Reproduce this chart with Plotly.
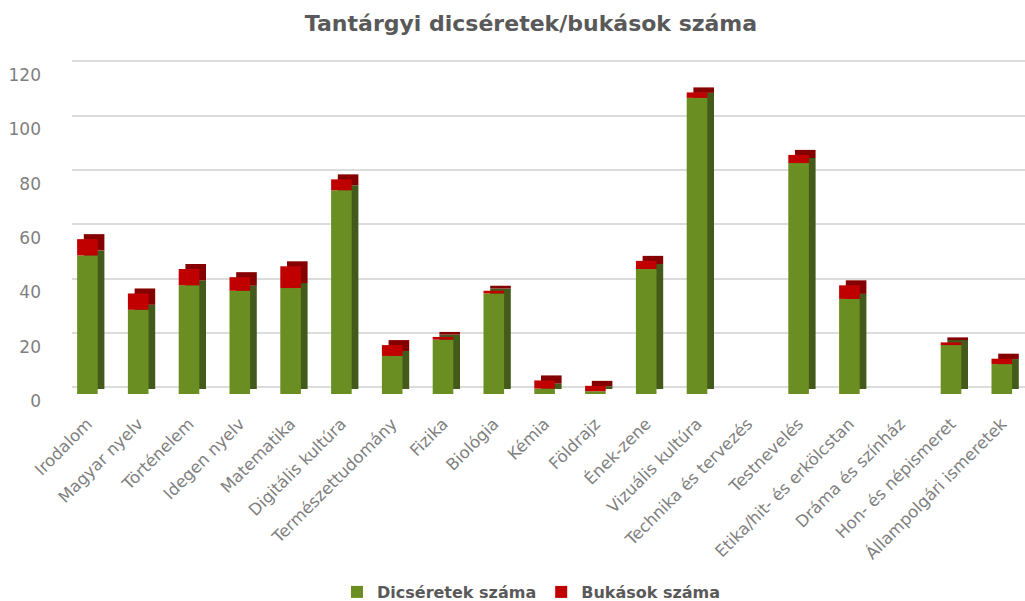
import plotly.graph_objects as go

categories = ["Irodalom", "Magyar nyelv", "Történelem", "Idegen nyelv", "Matematika",
              "Digitális kultúra", "Természettudomány", "Fizika", "Biológia", "Kémia",
              "Földrajz", "Ének-zene", "Vizuális kultúra", "Technika és tervezés",
              "Testnevelés", "Etika/hit- és erkölcstan", "Dráma és színház",
              "Hon- és népismeret", "Állampolgári ismeretek"]
dicseretek = [51, 31, 40, 38, 39, 75, 14, 20, 37, 2, 1, 46, 109, 0, 85, 35, 0, 18, 11]
bukasok = [6, 6, 6, 5, 8, 4, 4, 1, 1, 3, 2, 3, 2, 0, 3, 5, 0, 1, 2]
y_ticks = [0, 20, 40, 60, 80, 100, 120]

# layout geometry (pixels)
W, H = 1025, 601
L, R, T, B = 62, 0, 50, 191
ptop, pbot = T, H - B
pxu = 2.717          # pixels per unit
zero_bar, zero_lab, zero_grid = 394, 401, 387.3

def rng(zero):
    return [(zero - pbot) / pxu, (zero - ptop) / pxu]

cat_w = 50.8
bar_w = 20.6 / cat_w
dx = 6.7 / cat_w
dy = 5.0 / pxu

GREEN, GREEN_D = "#6B8E23", "#435A1A"
RED, RED_D = "#C00000", "#850000"
GREY = "#7F7F7F"
DARK = "#595959"
FONT = "DejaVu Sans"

totals_base = [g + dy for g in dicseretek]

fig = go.Figure()
# carrier for the back-wall grid subplot
fig.add_trace(go.Scatter(x=[0.5], y=[0], mode="markers", marker_opacity=0,
                         showlegend=False, hoverinfo="skip", xaxis="x", yaxis="y"))
# side/top shading (behind)
fig.add_trace(go.Bar(x=categories, y=dicseretek, base=[dy] * len(categories),
                     width=bar_w, offset=-bar_w / 2 + dx, marker_color=GREEN_D,
                     marker_line_width=0, showlegend=False, hoverinfo="skip",
                     xaxis="x2", yaxis="y2"))
fig.add_trace(go.Bar(x=categories, y=bukasok, base=totals_base,
                     width=bar_w, offset=-bar_w / 2 + dx, marker_color=RED_D,
                     marker_line_width=0, showlegend=False, hoverinfo="skip",
                     xaxis="x2", yaxis="y2"))
# front faces
fig.add_trace(go.Bar(x=categories, y=dicseretek, base=[0] * len(categories),
                     width=bar_w, offset=-bar_w / 2, marker_color=GREEN,
                     marker_line_width=0, name="Dicséretek száma",
                     xaxis="x2", yaxis="y2"))
fig.add_trace(go.Bar(x=categories, y=bukasok, base=dicseretek,
                     width=bar_w, offset=-bar_w / 2, marker_color=RED,
                     marker_line_width=0, name="Bukások száma",
                     xaxis="x2", yaxis="y2"))
# label axis carrier (invisible)
fig.add_trace(go.Scatter(x=[categories[0]], y=[0], mode="markers", marker_opacity=0,
                         showlegend=False, hoverinfo="skip", xaxis="x2", yaxis="y3"))

pw = W - L - R
fig.update_layout(
    width=W, height=H,
    margin=dict(l=L, r=R, t=T, b=B, autoexpand=False),
    paper_bgcolor="white", plot_bgcolor="rgba(0,0,0,0)",
    barmode="overlay",
    title=dict(text="<b>Tantárgyi dicséretek/bukások száma</b>",
               x=(531 - L) / pw, xref="paper", xanchor="center",
               y=1 - 23 / H, yanchor="middle",
               font=dict(family=FONT, size=22, color=DARK)),
    # grid subplot (back wall)
    xaxis=dict(domain=[(72 - L) / pw, 1], showgrid=False, showticklabels=False,
               zeroline=False, showline=False, range=[0, 1], fixedrange=True),
    yaxis=dict(domain=[0, 1], range=rng(zero_grid), tick0=0, dtick=20,
               showgrid=True, gridcolor="#DCDCDC", gridwidth=1.5,
               showticklabels=False, zeroline=False, showline=False),
    # bar subplot
    xaxis2=dict(domain=[0, 1], anchor="y2", type="category",
                range=[-0.5, (W - L - R) / cat_w - 0.5],
                showgrid=False, zeroline=False, showline=False, ticks="",
                tickangle=-45, tickfont=dict(family=FONT, size=16.5, color=GREY)),
    yaxis2=dict(domain=[0, 1], anchor="x2", range=rng(zero_bar),
                showgrid=False, showticklabels=False, zeroline=False, showline=False),
    yaxis3=dict(overlaying="y2", anchor="x2", side="left", range=rng(zero_lab),
                tickvals=y_ticks, ticktext=[str(v) for v in y_ticks],
                showgrid=False, zeroline=False, showline=False,
                ticklabelstandoff=20,
                tickfont=dict(family=FONT, size=17, color=GREY)),
    legend=dict(orientation="h", x=(531.5 - L) / pw, xanchor="center",
                y=(pbot - 592) / (pbot - ptop), yanchor="middle",
                font=dict(family=FONT, size=16, color=DARK, weight="bold"),
                itemwidth=30, bgcolor="rgba(0,0,0,0)"),
)

fig.write_html("out.html", config={"displayModeBar": False},
               post_script="document.body.style.margin='0';")
